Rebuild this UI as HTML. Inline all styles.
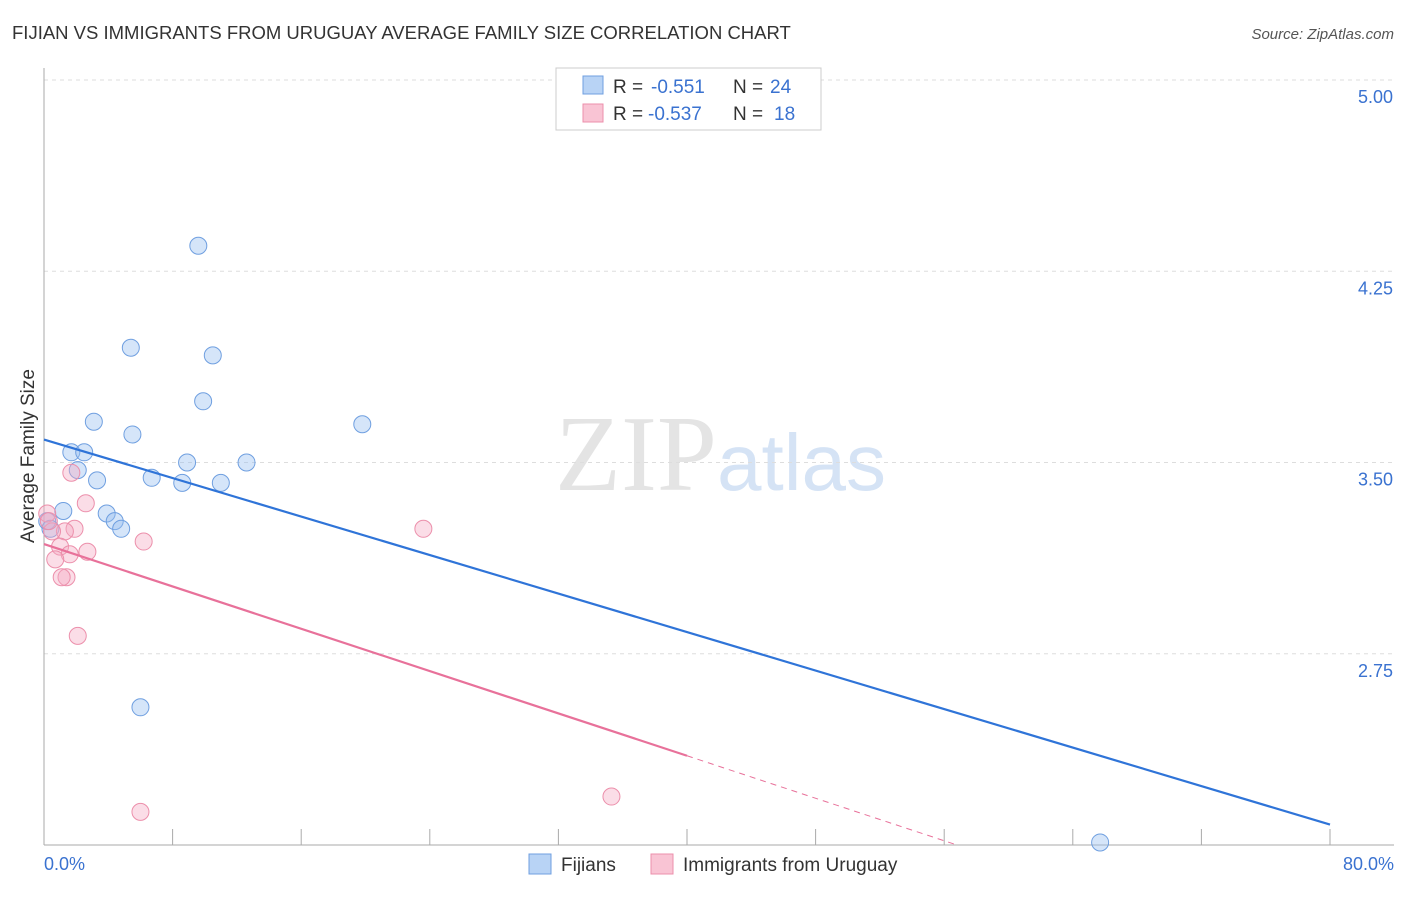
<!DOCTYPE html>
<html><head><meta charset="utf-8"><style>
body{margin:0;background:#fff;font-family:"Liberation Sans",sans-serif;}
</style></head><body>
<svg id="c" width="1406" height="892" xmlns="http://www.w3.org/2000/svg" font-family="Liberation Sans, sans-serif">
<text x="12" y="39" font-size="18.5" fill="#333">FIJIAN VS IMMIGRANTS FROM URUGUAY AVERAGE FAMILY SIZE CORRELATION CHART</text>
<text x="1394" y="39" font-size="15" fill="#555" text-anchor="end" font-style="italic">Source: ZipAtlas.com</text>
<text x="555" y="490" font-size="108" fill="#e4e4e4" font-family="Liberation Serif, serif">ZIP<tspan fill="#d5e3f5" font-family="Liberation Sans, sans-serif" font-size="80">atlas</tspan></text>
<text transform="translate(34,456) rotate(-90)" font-size="19" fill="#333" text-anchor="middle">Average Family Size</text>
<g id="grid"></g><g id="marks"></g>
<g>
<rect x="556" y="68" width="265" height="62" fill="#fff" stroke="#ccc"/>
<rect x="583" y="76" width="20" height="18" fill="#b8d3f5" stroke="#6f9fe0"/>
<text x="613" y="93" font-size="19" fill="#333">R =</text>
<text x="651" y="93" font-size="19" fill="#3a72d0">-0.551</text>
<text x="733" y="93" font-size="19" fill="#333">N =</text>
<text x="770" y="93" font-size="19" fill="#3a72d0">24</text>
<rect x="583" y="104" width="20" height="18" fill="#f9c4d4" stroke="#ec8fab"/>
<text x="613" y="120" font-size="19" fill="#333">R =</text>
<text x="648" y="120" font-size="19" fill="#3a72d0">-0.537</text>
<text x="733" y="120" font-size="19" fill="#333">N =</text>
<text x="774" y="120" font-size="19" fill="#3a72d0">18</text>
</g>
<g>
<rect x="529" y="854" width="22" height="20" fill="#b8d3f5" stroke="#6f9fe0"/>
<text x="561" y="871" font-size="19" fill="#333">Fijians</text>
<rect x="651" y="854" width="22" height="20" fill="#f9c4d4" stroke="#ec8fab"/>
<text x="683" y="871" font-size="19" fill="#333">Immigrants from Uruguay</text>
</g>
</svg>
<script>
const yTicks=[2.75,3.5,4.25,5.0];
const yTickLabels=["2.75","3.50","4.25","5.00"];
const fijX=[9.6,5.4,10.5,9.9,3.1,19.8,5.5,1.7,2.5,8.9,12.6,2.1,6.7,3.3,8.6,11.0,1.2,3.9,4.4,4.8,0.2,0.4,6.0,65.7];
const fijY=[4.35,3.95,3.92,3.74,3.66,3.65,3.61,3.54,3.54,3.50,3.50,3.47,3.44,3.43,3.42,3.42,3.31,3.30,3.27,3.24,3.27,3.24,2.54,2.01];
const uruX=[1.7,2.6,0.2,1.9,1.3,0.5,6.2,1.0,2.7,1.6,0.7,1.4,1.1,2.1,23.6,35.3,6.0,0.3];
const uruY=[3.46,3.34,3.30,3.24,3.23,3.23,3.19,3.17,3.15,3.14,3.12,3.05,3.05,2.82,3.24,2.19,2.13,3.27];
const fijLine=[3.59,2.08];
const uruLine=[3.18,2.35,2.0];
const X=v=>44+v/80*1286, Y=v=>845-(v-2)/3*765;
const NS="http://www.w3.org/2000/svg";
function mk(t,a,p){const e=document.createElementNS(NS,t);for(const k in a)e.setAttribute(k,a[k]);p.appendChild(e);return e;}
const g=document.getElementById('grid'),m=document.getElementById('marks');
yTicks.forEach((t,i)=>{
 const l=mk('line',{x1:44,x2:1394,y1:Y(t),y2:Y(t),stroke:'#ddd','stroke-dasharray':'4,4'},g);
 
 const tx=mk('text',{x:1393,y:Y(t)+23,'font-size':18,fill:'#3a72d0','text-anchor':'end'},g);tx.textContent=yTickLabels[i];
 
});
const ax=mk('line',{x1:44,x2:44,y1:68,y2:845,stroke:'#aaa'},g);
const bx=mk('line',{x1:44,x2:1394,y1:845,y2:845,stroke:'#aaa'},g);
for(let i=0;i<=10;i++){const t=mk('line',{x1:X(i*8),x2:X(i*8),y1:829,y2:845,stroke:'#aaa'},g);}
[["0.0%",44,'start'],["80.0%",1394,'end']].forEach(a=>{const t=mk('text',{x:a[1],y:870,'font-size':18,fill:'#3a72d0','text-anchor':a[2]},g);t.textContent=a[0];});
fijX.forEach((x,i)=>{const c=mk('circle',{cx:X(x),cy:Y(fijY[i]),r:8.5,fill:'rgba(150,190,240,0.4)',stroke:'#6f9fe0','stroke-width':1},m);});
uruX.forEach((x,i)=>{const c=mk('circle',{cx:X(x),cy:Y(uruY[i]),r:8.5,fill:'rgba(245,170,195,0.4)',stroke:'#ec8fab','stroke-width':1},m);});
const l1=mk('line',{x1:X(0),y1:Y(fijLine[0]),x2:X(80),y2:Y(fijLine[1]),stroke:'#2f74d8','stroke-width':2.2},m);
const l2=mk('line',{x1:X(0),y1:Y(uruLine[0]),x2:X(40),y2:Y(uruLine[1]),stroke:'#e8719a','stroke-width':2.2},m);
const l3=mk('line',{x1:X(40),y1:Y(uruLine[1]),x2:X(56.8),y2:Y(uruLine[2]),stroke:'#e8719a','stroke-width':1,'stroke-dasharray':'6,5'},m);
</script>
</body></html>
